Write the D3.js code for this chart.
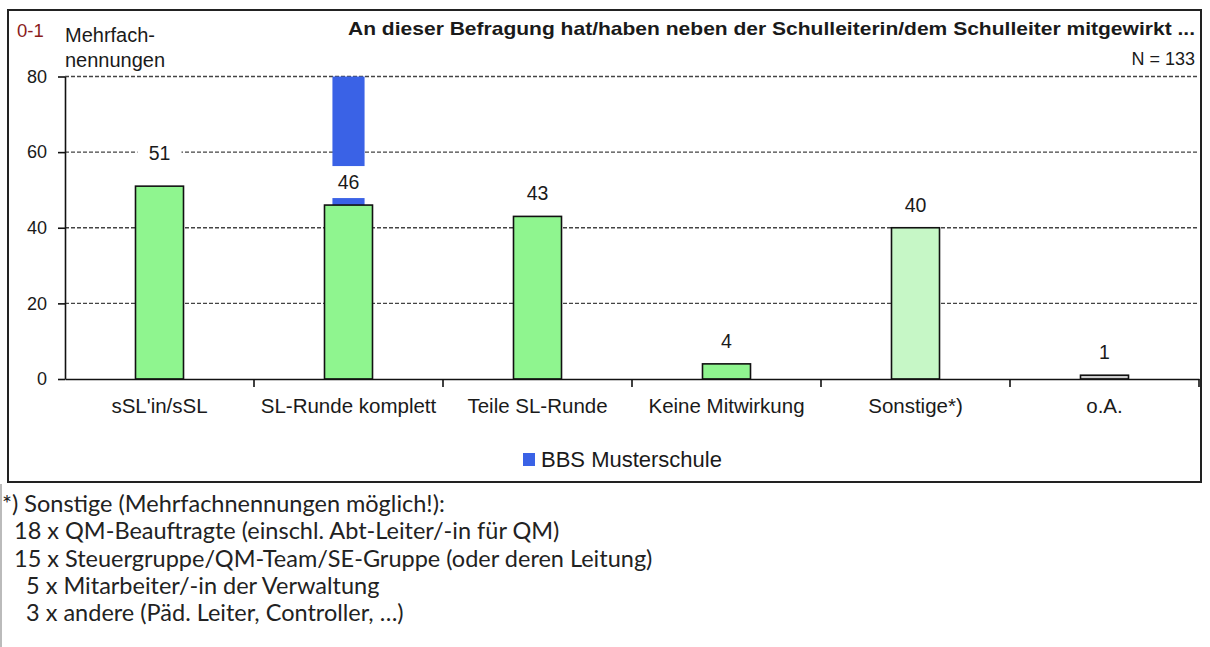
<!DOCTYPE html>
<html lang="de">
  <head>
    <meta charset="UTF-8" />
    <title>Mitwirkung an der Befragung</title>
    <script src="https://cdn.jsdelivr.net/npm/d3@7"></script>
    <style>
      body {
        margin: 0;
        background: #fff;
      }

      text {
        font-family: "Liberation Sans", Arial, sans-serif;
        fill: #1a1a1a;
      }

      .grid-line {
        stroke: #444;
        stroke-width: 1.4px;
        stroke-dasharray: 4,2;
      }

      .bar {
        stroke: #111;
        stroke-width: 1.6px;
      }

      .axis path,
      .axis line {
        stroke: #111;
        stroke-width: 1.6px;
      }

      .footnote text {
        font-family: Lato, "Open Sans", sans-serif;
        font-size: 23.5px;
        fill: #222;
      }
    </style>
  </head>

  <body>
    <script>

      // ---- data ----
      var categories = ["sSL'in/sSL", "SL-Runde komplett", "Teile SL-Runde", "Keine Mitwirkung", "Sonstige*)", "o.A."];
      var counts = [51, 46, 43, 4, 40, 1];
      // BBS Musterschule: only "SL-Runde komplett", runs off the top of the scale
      var schoolValues = [null, 100, null, null, null, null];
      var yTicks = [0, 20, 40, 60, 80];
      var footnoteLines = [
        "*) Sonstige (Mehrfachnennungen möglich!):",
        "  18 x QM-Beauftragte (einschl. Abt-Leiter/-in für QM)",
        "  15 x Steuergruppe/QM-Team/SE-Gruppe (oder deren Leitung)",
        "    5 x Mitarbeiter/-in der Verwaltung",
        "    3 x andere (Päd. Leiter, Controller, …)"
      ];

      var barFill = ["#8ff58f", "#8ff58f", "#8ff58f", "#8ff58f", "#c6f7c6", "#cfcfcf"];
      var schoolColor = "#3a62e6";

      var w = 1210,
          h = 647;

      var plot = { left: 65, right: 1199, top: 76.5, bottom: 379 };

      var svg = d3.select("body").append("svg")
        .attr("width", w)
        .attr("height", h);

      // chart frame
      svg.append("rect")
        .attr("x", 8)
        .attr("y", 10)
        .attr("width", 1193)
        .attr("height", 472)
        .attr("fill", "#fff")
        .attr("stroke", "#222")
        .attr("stroke-width", 2);

      var xScale = d3.scaleBand()
        .domain(categories)
        .range([plot.left, plot.right])
        .padding(0);

      var yScale = d3.scaleLinear()
        .domain([0, 80])
        .range([plot.bottom, plot.top]);

      var barW = xScale.bandwidth() * 0.254;
      var schoolW = xScale.bandwidth() * 0.17;

      svg.append("clipPath")
        .attr("id", "plot-clip")
        .append("rect")
        .attr("x", plot.left)
        .attr("y", plot.top)
        .attr("width", plot.right - plot.left)
        .attr("height", plot.bottom - plot.top);

      // gridlines
      svg.selectAll(".grid-line")
        .data(yTicks.filter(function(d) { return d > 0; }))
        .enter()
        .append("line")
        .attr("class", "grid-line")
        .attr("x1", plot.left)
        .attr("x2", plot.right)
        .attr("y1", function(d) { return yScale(d); })
        .attr("y2", function(d) { return yScale(d); });

      // school bar (behind)
      svg.append("g")
        .attr("clip-path", "url(#plot-clip)")
        .selectAll("rect")
        .data(categories.map(function(c, i) { return { cat: c, v: schoolValues[i] }; })
          .filter(function(d) { return d.v !== null; }))
        .enter()
        .append("rect")
        .attr("x", function(d) { return xScale(d.cat) + (xScale.bandwidth() - schoolW) / 2; })
        .attr("y", function(d) { return yScale(d.v); })
        .attr("width", schoolW)
        .attr("height", function(d) { return yScale(0) - yScale(d.v); })
        .attr("fill", schoolColor);

      // total bars
      svg.selectAll(".bar")
        .data(counts)
        .enter()
        .append("rect")
        .attr("class", "bar")
        .attr("x", function(d, i) { return xScale(categories[i]) + (xScale.bandwidth() - barW) / 2; })
        .attr("y", function(d) { return yScale(d); })
        .attr("width", barW)
        .attr("height", function(d) { return yScale(0) - yScale(d); })
        .attr("fill", function(d, i) { return barFill[i]; });

      // y axis
      var yAxis = d3.axisLeft(yScale)
        .tickValues(yTicks)
        .tickSize(7)
        .tickSizeOuter(0)
        .tickPadding(11);

      var gy = svg.append("g")
        .attr("class", "axis")
        .attr("transform", "translate(" + plot.left + ",0)")
        .call(yAxis);
      gy.selectAll("text").attr("font-size", 18).attr("font-family", null);

      // x axis: labels centred, ticks between categories
      var xAxis = d3.axisBottom(xScale)
        .tickSize(0)
        .tickSizeOuter(0)
        .tickPadding(19);

      var gx = svg.append("g")
        .attr("class", "axis")
        .attr("transform", "translate(0," + plot.bottom + ")")
        .call(xAxis);
      gx.selectAll("text").attr("font-size", 20.5).attr("font-family", null);

      var bounds = categories.map(function(c) { return xScale(c); }).concat([plot.right]);
      gx.selectAll(".sep")
        .data(bounds.slice(1))
        .enter()
        .append("line")
        .attr("class", "sep")
        .attr("x1", function(d) { return d; })
        .attr("x2", function(d) { return d; })
        .attr("y1", 0)
        .attr("y2", 8);

      // value labels with white box
      var labelNudge = { "sSL'in/sSL": -10 };
      var labels = svg.selectAll(".val")
        .data(counts)
        .enter()
        .append("g")
        .attr("class", "val")
        .attr("transform", function(d, i) {
          var cx = xScale(categories[i]) + xScale.bandwidth() / 2;
          var cy = yScale(d) - 23 + (labelNudge[categories[i]] || 0);
          return "translate(" + cx + "," + cy + ")";
        });

      labels.append("rect")
        .attr("x", -22)
        .attr("y", -16)
        .attr("width", 44)
        .attr("height", 32)
        .attr("fill", "#fff");

      labels.append("text")
        .attr("text-anchor", "middle")
        .attr("dy", "0.36em")
        .attr("font-size", 19.5)
        .text(function(d) { return d; });

      // top texts
      svg.append("text")
        .attr("x", 17)
        .attr("y", 37)
        .attr("font-size", 18.5)
        .style("fill", "#8b1c1c")
        .text("0-1");

      svg.append("text")
        .attr("x", 65)
        .attr("y", 42)
        .attr("font-size", 20)
        .text("Mehrfach-");

      svg.append("text")
        .attr("x", 65)
        .attr("y", 67)
        .attr("font-size", 20)
        .text("nennungen");

      svg.append("text")
        .attr("x", 1195)
        .attr("y", 35)
        .attr("text-anchor", "end")
        .attr("font-size", 19)
        .attr("font-weight", "bold")
        .attr("textLength", 847)
        .attr("lengthAdjust", "spacingAndGlyphs")
        .text("An dieser Befragung hat/haben neben der Schulleiterin/dem Schulleiter mitgewirkt ...");

      svg.append("text")
        .attr("x", 1195)
        .attr("y", 65)
        .attr("text-anchor", "end")
        .attr("font-size", 18)
        .text("N = 133");

      // legend
      var legend = svg.append("g")
        .attr("transform", "translate(523,453)");

      legend.append("rect")
        .attr("width", 12)
        .attr("height", 13)
        .attr("fill", schoolColor);

      legend.append("text")
        .attr("x", 18)
        .attr("y", 14)
        .attr("font-size", 22)
        .text("BBS Musterschule");

      // footnote below the frame
      var foot = svg.append("g")
        .attr("class", "footnote");

      foot.append("line")
        .attr("x1", 1)
        .attr("x2", 1)
        .attr("y1", 484)
        .attr("y2", h)
        .attr("stroke", "#bbb")
        .attr("stroke-width", 2);

      foot.selectAll("text")
        .data(footnoteLines)
        .enter()
        .append("text")
        .attr("x", 2)
        .attr("y", function(d, i) { return 512 + i * 27.3; })
        .attr("xml:space", "preserve")
        .style("white-space", "pre")
        .text(function(d) { return d; });

    </script>
  </body>
</html>
